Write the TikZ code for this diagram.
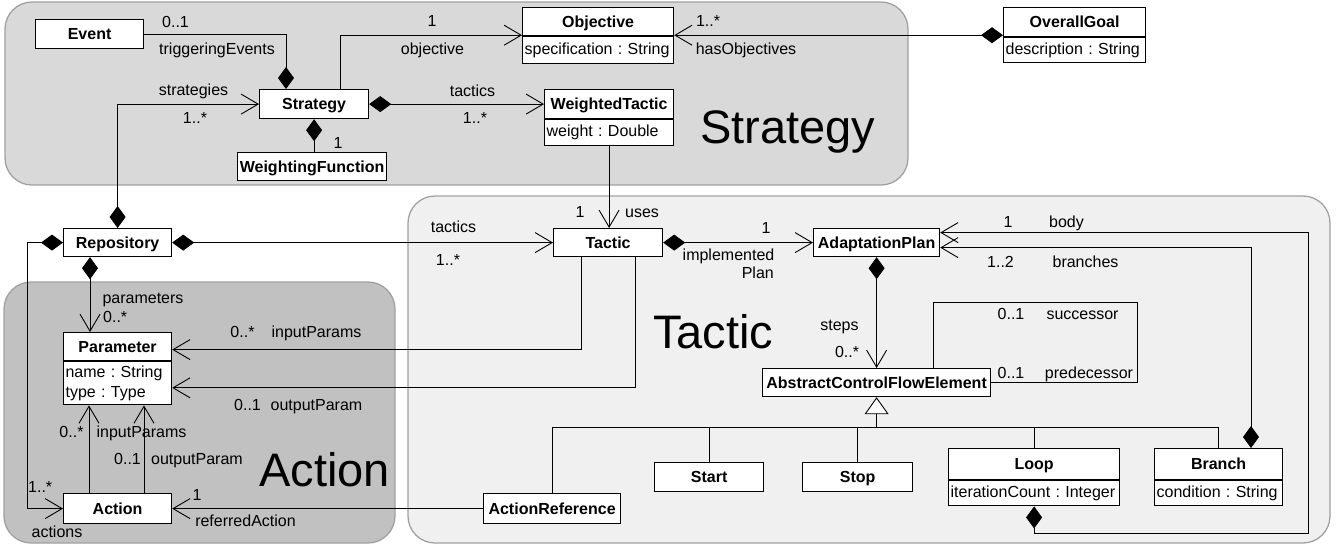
\documentclass[tikz,border=0pt]{standalone}
\usepackage{fontspec}
\setmainfont{Liberation Sans}
\usetikzlibrary{arrows.meta,calc}

\definecolor{stratfill}{gray}{0.85}
\definecolor{tacticfill}{gray}{0.94}
\definecolor{actionfill}{gray}{0.755}
\definecolor{grpline}{gray}{0.63}

\begin{document}
\begin{tikzpicture}[x=1pt,y=-1pt,
  lbl/.style={inner sep=0pt, text height=11.5pt, text depth=0pt, font=\fontsize{16}{20}\selectfont},
  big/.style={inner sep=0pt, anchor=base west, font=\fontsize{47}{50}\selectfont},
  grp/.style={draw=grpline, line width=1.3pt, rounded corners=27pt},
  hdr/.style={draw, line width=1.2pt, fill=white, anchor=north west, inner sep=0pt,
              text height=11.5pt, text depth=0pt, font=\fontsize{16}{20}\selectfont\bfseries},
  attr/.style={draw, line width=1.2pt, fill=white, anchor=north west, inner xsep=2pt,
               inner ysep=0pt, align=left, font=\fontsize{16}{20}\selectfont,
               execute at begin node={\frenchspacing}},
  conn/.style={line width=0.9pt},
  nav/.style={conn, -{Straight Barb[length=17pt,width=20pt]}},
  comp/.style={conn, {Diamond[length=22pt,width=16pt]}-},
  compend/.style={conn, -{Diamond[length=22pt,width=16pt]}},
  compnav/.style={conn, {Diamond[length=22pt,width=16pt]}-{Straight Barb[length=17pt,width=20pt]}},
  gen/.style={conn, -{Triangle[length=17pt,width=24pt,fill=white]}},
]
\useasboundingbox (0,0) rectangle (1343,550);

% package areas
\draw[grp, fill=stratfill] (5,2) rectangle (908,185);
\draw[grp, fill=tacticfill] (408,196) rectangle (1330,543);
\draw[grp, fill=actionfill] (4,282) rectangle (395,543);

\node[big] (strategyTitle) at (700,143) {Strategy};
\node[big] (tacticTitle) at (653,348) {Tactic};
\node[big] (actionTitle) at (259,486) {Action};

% classes
\node[hdr, minimum width=108pt, minimum height=29pt] (event) at (35,19) {Event};
\node[hdr, minimum width=109pt, minimum height=29pt] (strategy) at (259,89) {Strategy};
\node[hdr, minimum width=149pt, minimum height=28pt] (weighting) at (237,152) {WeightingFunction};
\node[hdr, minimum width=151pt, minimum height=28pt] (objective) at (522,7) {Objective};
\node[attr, minimum width=151pt, minimum height=27pt, text width=147pt] (objectiveA) at (objective.south west) {\mbox{specification : String}};
\node[hdr, minimum width=129pt, minimum height=29pt] (wtactic) at (544,89) {WeightedTactic};
\node[attr, minimum width=129pt, minimum height=26pt, text width=125pt] (wtacticA) at (wtactic.south west) {\mbox{weight : Double}};
\node[hdr, minimum width=142pt, minimum height=29pt] (goal) at (1003,7) {OverallGoal};
\node[attr, minimum width=142pt, minimum height=25pt, text width=138pt] (goalA) at (goal.south west) {\mbox{description : String}};
\node[hdr, minimum width=108pt, minimum height=28pt] (repo) at (63,228) {Repository};
\node[hdr, minimum width=108pt, minimum height=28pt] (param) at (63,332) {Parameter};
\node[attr, minimum width=108pt, minimum height=43pt, text width=104pt] (paramA) at (param.south west) {\mbox{name : String}\\\mbox{type : Type}};
\node[hdr, minimum width=108pt, minimum height=30pt] (action) at (63,493) {Action};
\node[hdr, minimum width=109pt, minimum height=28pt] (tactic) at (553,228) {Tactic};
\node[hdr, minimum width=126pt, minimum height=28pt] (plan) at (813,228) {AdaptationPlan};
\node[hdr, minimum width=228pt, minimum height=28pt] (acfe) at (762,368) {AbstractControlFlowElement};
\node[hdr, minimum width=137pt, minimum height=30pt] (actref) at (483,493) {ActionReference};
\node[hdr, minimum width=109pt, minimum height=29pt] (start) at (654,462) {Start};
\node[hdr, minimum width=110pt, minimum height=29pt] (stop) at (802,462) {Stop};
\node[hdr, minimum width=171pt, minimum height=31pt] (loop) at (948,448) {Loop};
\node[attr, minimum width=171pt, minimum height=25pt, text width=167pt] (loopA) at (loop.south west) {\mbox{iterationCount : Integer}};
\node[hdr, minimum width=128pt, minimum height=31pt] (branch) at (1154,448) {Branch};
\node[attr, minimum width=128pt, minimum height=25pt, text width=124pt] (branchA) at (branch.south west) {\mbox{condition : String}};

% helper points on class borders
\coordinate (hasObj) at ([yshift=2pt]goal.south west);
\coordinate (inP) at ([yshift=-3pt]param.east);
\coordinate (outP) at ([yshift=-4.5pt]paramA.east);
\coordinate (bodyIn) at ([yshift=10pt]plan.east);
\coordinate (bodyCorner) at ([xshift=368pt]bodyIn);
\coordinate (branchIn) at ([yshift=-5pt]plan.east);
\coordinate (genbus) at ([yshift=-30pt]acfe.south);

% associations of the strategy part
\draw[compend] (event.east) -| ([xshift=27pt]strategy.north west);
\draw[nav] ([xshift=81pt]strategy.north west) |- (hasObj -| objective.west);
\draw[compnav] (hasObj) -- (hasObj -| objective.east);
\draw[compnav] (strategy.east) -- (wtactic.west);
\draw[comp] (strategy.south) -- (strategy.south |- weighting.north);
\draw[compnav] (repo.north) |- (strategy.west);

% repository
\draw[compnav] (repo.east) -- (tactic.west);
\draw[compnav] (repo.west) -- ++(-36,0) |- (action.west);
\draw[compnav] ([xshift=27pt]repo.south west) -- ([xshift=27pt]param.north west);

% parameters
\draw[nav] ([xshift=28pt]tactic.south west) |- (inP);
\draw[nav] ([xshift=82pt]tactic.south west) |- (outP);
\draw[nav] ([xshift=26pt]action.north west) -- ([xshift=26pt]paramA.south west);
\draw[nav] ([xshift=81pt]action.north west) -- ([xshift=81pt]paramA.south west);
\draw[nav] (actref.west) -- (action.east);

% tactic part
\draw[nav] (wtacticA.south) -- (wtacticA.south |- tactic.north);
\draw[compnav] (tactic.east) -- (plan.west);
\draw[compnav] (plan.south) -- (acfe.north);
\draw[conn] ([xshift=171pt]acfe.north west) |- ++(204,-66) |- (acfe.east);

% generalization
\draw[gen] (genbus) -- (acfe.south);
\draw[conn] (actref.north) |- (genbus);
\draw[conn] (genbus) -| (branch.north);
\draw[conn] (start.north) -- (start.north |- genbus);
\draw[conn] (stop.north) -- (stop.north |- genbus);
\draw[conn] (loop.north) -- (loop.north |- genbus);

% loop body and branches
\draw[compnav] (loopA.south) -- ++(0,27) -| (bodyCorner) -- (bodyIn);
\draw[compnav] ([xshift=97pt]branch.north west) |- (branchIn);

% role names and multiplicities
\node[lbl] (l01) at (175.5,22) {0..1};
\node[lbl] (l02) at (217,49) {triggeringEvents};
\node[lbl] (l03) at (193.5,90) {strategies};
\node[lbl] (l04) at (195,118) {1..*};
\node[lbl] (l05) at (432,21) {1};
\node[lbl] (l06) at (432.5,49) {objective};
\node[lbl] (l07) at (708,21) {1..*};
\node[lbl] (l08) at (746,49) {hasObjectives};
\node[lbl] (l09) at (472.5,91) {tactics};
\node[lbl] (l10) at (475,118) {1..*};
\node[lbl] (l11) at (338,143) {1};
\node[lbl] (l12) at (453.5,227) {tactics};
\node[lbl] (l13) at (448,260) {1..*};
\node[lbl] (l14) at (580,212) {1};
\node[lbl] (l15) at (642,212) {uses};
\node[lbl] (l16) at (766,228) {1};
\node[lbl] (l17) at (728.5,255) {implemented};
\node[lbl, anchor=east] (l18) at (774,273) {Plan};
\node[lbl] (l19) at (143,298) {parameters};
\node[lbl, anchor=west] (l20) at (103,317) {0..*};
\node[lbl] (l21) at (242.5,332) {0..*};
\node[lbl] (l22) at (316.5,332) {inputParams};
\node[lbl] (l23) at (247.5,405) {0..1};
\node[lbl] (l24) at (316.5,405) {outputParam};
\node[lbl] (l25) at (71.5,432) {0..*};
\node[lbl] (l26) at (141.5,432) {inputParams};
\node[lbl] (l27) at (127.5,459) {0..1};
\node[lbl] (l28) at (197,459) {outputParam};
\node[lbl, anchor=west] (l29) at (28,487) {1..*};
\node[lbl] (l30) at (57,532) {actions};
\node[lbl] (l31) at (197,495) {1};
\node[lbl] (l32) at (245.5,521) {referredAction};
\node[lbl] (l33) at (839.5,325) {steps};
\node[lbl] (l34) at (847,352) {0..*};
\node[lbl] (l35) at (1011,314) {0..1};
\node[lbl] (l36) at (1082.5,314) {successor};
\node[lbl] (l37) at (1011,373) {0..1};
\node[lbl] (l38) at (1089,373) {predecessor};
\node[lbl] (l39) at (1008,222) {1};
\node[lbl] (l40) at (1066.5,222) {body};
\node[lbl] (l41) at (1000.5,262) {1..2};
\node[lbl] (l42) at (1085.5,262) {branches};
\end{tikzpicture}
\end{document}
